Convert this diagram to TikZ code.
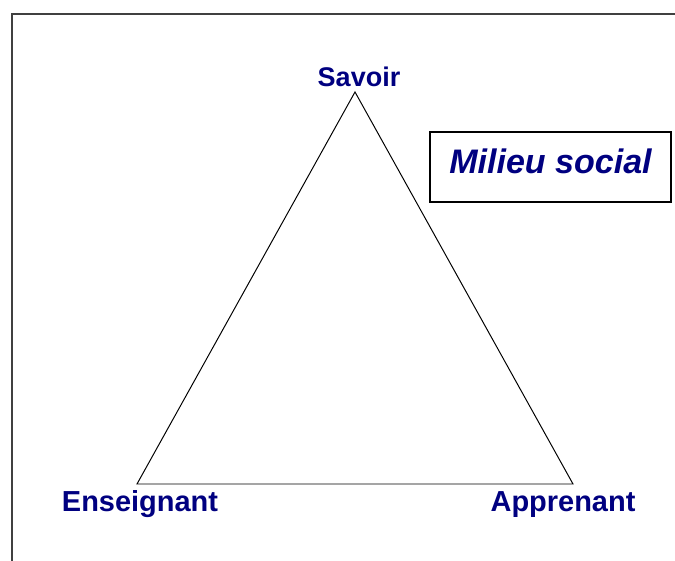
\documentclass[tikz,border=0pt]{standalone}
\usepackage{fontspec}
\setmainfont{Liberation Sans}
\definecolor{navy}{RGB}{0,0,128}

\begin{document}
\begin{tikzpicture}[
 lbl/.style={text=navy,font=\bfseries\fontsize{20.6}{24}\selectfont,anchor=base,inner sep=0pt},
 milieubox/.style={draw,line width=0.9pt,text=navy,font=\bfseries\itshape\fontsize{24.2}{28}\selectfont,
   minimum width=6.025cm,minimum height=1.75cm,inner sep=0pt,text depth=0.275cm}]
\useasboundingbox (0,0) rectangle (16.875,14.025);
\clip (0,0) rectangle (16.875,14.025);
\draw[line width=1.4pt,draw=black!75] (0.30,-1.00) rectangle (17.50,13.675);
\coordinate (vS) at (8.875,11.725);
\coordinate (vE) at (3.425,1.925);
\coordinate (vA) at (14.325,1.925);
\draw[line width=0.7pt] (vS) -- (vA) -- (vE) -- cycle;
\node[lbl,font=\bfseries\fontsize{19.2}{23}\selectfont] (savoir) at (8.975,11.85) {Savoir};
\node[lbl] (ens) at (3.50,1.225) {Enseignant};
\node[lbl] (app) at (14.075,1.225) {Apprenant};
\node[milieubox] (milieu) at (13.7625,9.85) {Milieu social};
\end{tikzpicture}
\end{document}
